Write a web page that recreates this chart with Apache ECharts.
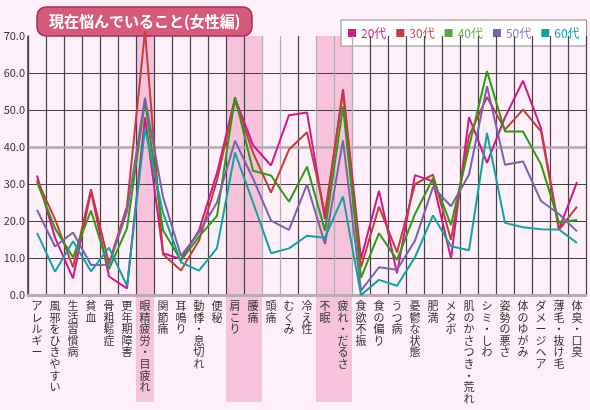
<!DOCTYPE html>
<html><head><meta charset="utf-8">
<script src="https://cdn.jsdelivr.net/npm/echarts@6/dist/echarts.min.js"></script>
<style>html,body{margin:0;padding:0;background:#fdf0f8;}#c{width:590px;height:410px;}</style>
</head><body><div id="c"></div>
<script>
const categories = ['アレルギー','風邪をひきやすい','生活習慣病','貧血','骨粗鬆症','更年期障害','眼精疲労・目疲れ','関節痛','耳鳴り','動悸・息切れ','便秘','肩こり','腰痛','頭痛','むくみ','冷え性','不眠','疲れ・だるさ','食欲不振','食の偏り','うつ病','憂鬱な状態','肥満','メタボ','肌のかさつき・荒れ','シミ・しわ','姿勢の悪さ','体のゆがみ','ダメージヘア','薄毛・抜け毛','体臭・口臭'];
const seriesNames = ['20代','30代','40代','50代','60代'];
const s20 = [32.3,15.5,4.5,28.0,5.0,1.8,48.0,11.3,9.7,17.4,33.0,53.2,40.5,35.0,48.6,49.3,20.5,55.6,9.7,28.2,5.9,32.4,30.7,9.9,48.1,35.7,48.0,57.9,45.1,17.8,30.5];
const s30 = [31.1,20.5,7.5,28.6,8.5,24.0,71.3,11.0,6.6,14.7,31.0,52.5,38.5,27.7,39.3,44.0,22.0,55.0,7.5,23.9,11.5,30.0,32.5,14.9,43.0,53.5,44.7,50.1,44.2,17.6,23.9];
const s40 = [30.6,18.0,10.2,22.8,7.0,18.0,52.5,17.5,9.3,15.8,21.4,53.5,33.6,32.3,25.2,34.7,17.4,50.9,4.6,16.7,9.5,21.9,31.5,18.9,40.0,60.5,44.2,44.2,35.3,19.6,20.3];
const s50 = [23.0,13.1,16.9,8.1,8.2,22.5,53.3,26.5,10.6,16.9,25.0,41.7,31.5,20.1,17.6,29.9,13.8,41.8,1.2,7.5,6.8,14.7,29.2,24.0,32.5,56.4,35.2,36.1,25.4,21.9,17.2];
const s60 = [16.8,6.3,14.5,6.4,12.8,2.5,45.0,22.2,8.8,6.6,12.7,38.5,25.0,11.3,12.6,16.0,15.5,26.6,0.0,4.1,2.5,10.2,21.5,13.2,12.1,43.8,19.5,18.3,17.8,17.7,14.1];
const highlighted = ['眼精疲労・目疲れ','肩こり','腰痛','不眠','疲れ・だるさ'];
const titleText = '現在悩んでいること(女性編)';
const yTicks = [0,10,20,30,40,50,60,70];

const lineColors = ['#d4168e','#c83c3c','#2f9a12','#7a62aa','#12a3a0'];
const legendIconColors = ['#d4168e','#c83c3c','#5aac3a','#7a62aa','#12a3a0'];
const legendTextColors = ['#d4168e','#cc4848','#6ab04a','#8a78b8','#12a3a0'];
const FONT = "'Noto Sans CJK JP','Noto Sans',sans-serif";
const allData = [s20,s30,s40,s50,s60];

const vGray = [13,14,16,17,18];
const vColors = [];
for (let k = 0; k <= categories.length; k++) vColors.push(vGray.indexOf(k) >= 0 ? '#b7a6b3' : '#4a3e46');
const hColors = yTicks.map(v => v === 70 ? 'rgba(0,0,0,0)' : (v === 40 || v === 0) ? 'rgba(0,0,0,0)' : '#4a3e46');

const chart = echarts.init(document.getElementById('c'), null, {renderer:'canvas'});
const series = [{
  type:'bar', xAxisIndex:1, yAxisIndex:1, z:0, silent:true,
  barWidth:'100%', barCategoryGap:'0%',
  itemStyle:{color:'#f6c2dc'},
  data: categories.map(c => highlighted.indexOf(c) >= 0 ? 1 : '-')
}];
seriesNames.forEach((n,i) => {
  series.push({
    name:n, type:'line', xAxisIndex:0, yAxisIndex:0, data: allData[i],
    symbol:'none', clip:false, z:10+i,
    lineStyle:{color:lineColors[i], width:2},
    itemStyle:{color:lineColors[i]},
    markLine: i === 0 ? {silent:true, symbol:'none', label:{show:false}, animation:false,
      lineStyle:{color:'#b7a6b3', width:2.5, type:'solid'}, data:[{yAxis:40}]} : undefined
  });
});

chart.setOption({
  animation:false,
  backgroundColor:'#fdf0f8',
  textStyle:{fontFamily:FONT},
  title:{
    text:titleText, left:37, top:7,
    padding:[6,12], backgroundColor:'#d65b7b', borderColor:'#a82a5c', borderWidth:1.5, borderRadius:9,
    textStyle:{color:'#ffffff', fontSize:15, fontWeight:'bold', fontFamily:FONT, lineHeight:17}
  },
  legend:{
    left:341, top:20, padding:[7,7], backgroundColor:'#ffffff', borderColor:'#8a8a8a', borderWidth:1,
    itemWidth:8, itemHeight:8, itemGap:10, icon:'rect',
    data: seriesNames.map((n,i) => ({name:n, itemStyle:{color:legendIconColors[i]}, textStyle:{color:legendTextColors[i]}})),
    textStyle:{fontSize:12, fontFamily:FONT}
  },
  grid:[
    {left:28, right:4, top:36, bottom:115, containLabel:false},
    {left:28, right:4, top:36, bottom:8, containLabel:false}
  ],
  xAxis:[
    {type:'category', gridIndex:0, data:categories, boundaryGap:true, z:5,
      axisLine:{show:true, lineStyle:{color:'#bba9b6', width:3}},
      axisTick:{show:false},
      splitLine:{show:true, interval:0, lineStyle:{color:vColors, width:1.2}},
      axisLabel:{interval:0, margin:5, color:'#333', fontSize:11, lineHeight:11.6, fontFamily:FONT,
        verticalAlign:'top', formatter: v => v.split('').join('\n')}
    },
    {type:'category', gridIndex:1, data:categories, boundaryGap:true, show:false}
  ],
  yAxis:[
    {type:'value', gridIndex:0, min:0, max:70, interval:10, z:5,
      axisLine:{show:true, lineStyle:{color:'#4a3e46', width:1.5}},
      axisTick:{show:false},
      splitLine:{show:true, lineStyle:{color:hColors, width:1.2}},
      axisLabel:{color:'#333', fontSize:11, margin:3, fontFamily:FONT, formatter: v => v.toFixed(1)}
    },
    {type:'value', gridIndex:1, min:0, max:1, show:false}
  ],
  series: series
});
</script></body></html>
